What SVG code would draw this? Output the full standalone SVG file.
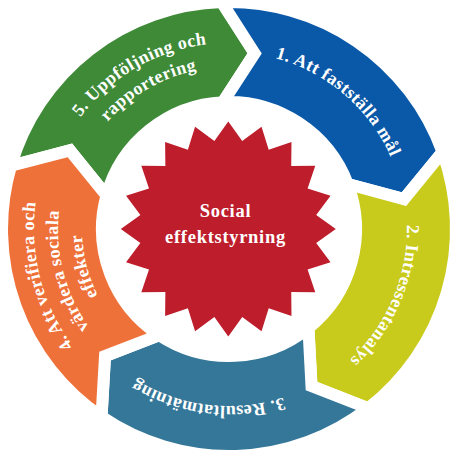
<svg xmlns="http://www.w3.org/2000/svg" width="466" height="462" viewBox="0 0 466 462">
<style>
.seg{stroke:#ffffff;stroke-width:12;stroke-linejoin:miter}
.lbl{font-family:"Liberation Serif","Times New Roman",serif;font-weight:bold;font-size:18px;letter-spacing:0.4px;fill:#ffffff}
.ctr{font-family:"Liberation Serif","Times New Roman",serif;font-weight:bold;font-size:18.5px;letter-spacing:0.7px;fill:#ffffff;text-anchor:middle}
</style>
<defs>
<path id="p5a" d="M43,229 A186,186 0 0 1 322,67.92"/>
<path id="p5b" d="M67,229 A162,162 0 0 1 310,88.7"/>
<path id="p1" d="M170.21,62.05 A177,177 0 0 1 402.98,261.56"/>
<path id="p2" d="M371.16,121.88 A178,178 0 0 1 250.69,405.67"/>
<path id="p3" d="M370.36,335.52 A177,177 0 0 1 66.07,298.16"/>
<path id="p4a" d="M176.89,416.91 A195,195 0 0 1 92.32,89.92"/>
<path id="p4b" d="M183.3,393.78 A171,171 0 0 1 109.14,107.03"/>
<path id="p4c" d="M189.72,370.65 A147,147 0 0 1 125.97,124.15"/>
</defs>
<rect width="466" height="462" fill="#ffffff"/>
<g id="step5">
<path class="seg" fill="#3E8A36" d="M10.98,165.82 A227,227 0 0 1 221.71,2.12 L254.62,53.36 L222.97,102.14 A127,127 0 0 0 106.49,195.53 L69.9,150.36 Z"/>
<text class="lbl"><textPath href="#p5a" startOffset="50%" text-anchor="middle">5. Uppföljning och</textPath></text>
<text class="lbl"><textPath href="#p5b" startOffset="50%" text-anchor="middle">rapportering</textPath></text>
</g>
<g id="step1">
<path class="seg" fill="#0A58A8" d="M221.71,2.12 A227,227 0 0 1 442.53,151.95 L403.96,199.09 L347.78,184.07 A127,127 0 0 0 222.97,102.14 L254.62,53.36 Z"/>
<text class="lbl"><textPath href="#p1" startOffset="50%" text-anchor="middle">1. Att fastställa mål</textPath></text>
</g>
<g id="step2">
<path class="seg" fill="#C9CB1C" d="M442.53,151.95 A227,227 0 0 1 368.26,408.27 L311.51,386.16 L308.44,328.08 A127,127 0 0 0 347.78,184.07 L403.96,199.09 Z"/>
<text class="lbl"><textPath href="#p2" startOffset="50%" text-anchor="middle">2. Intressentanalys</textPath></text>
</g>
<g id="step3">
<path class="seg" fill="#357799" d="M368.26,408.27 A227,227 0 0 1 101.53,416.83 L105.03,356.03 L159.3,335.17 A127,127 0 0 0 308.44,328.08 L311.51,386.16 Z"/>
<text class="lbl"><textPath href="#p3" startOffset="50%" text-anchor="middle">3. Resultatmätning</textPath></text>
</g>
<g id="step4">
<path class="seg" fill="#EF713A" d="M101.53,416.83 A227,227 0 0 1 10.98,165.82 L69.9,150.36 L106.49,195.53 A127,127 0 0 0 159.3,335.17 L105.03,356.03 Z"/>
<text class="lbl"><textPath href="#p4a" startOffset="50%" text-anchor="middle">4. Att verifiera och</textPath></text>
<text class="lbl"><textPath href="#p4b" startOffset="50%" text-anchor="middle">värdera sociala</textPath></text>
<text class="lbl"><textPath href="#p4c" startOffset="50%" text-anchor="middle">effekter</textPath></text>
</g>
<g id="center">
<polygon fill="#BE1D2C" points="228.3,121.5 242.22,141.1 261.52,126.76 268.71,149.7 291.49,142.03 291.23,166.07 315.27,165.81 307.6,188.59 330.54,195.78 316.2,215.08 335.8,229 316.2,242.92 330.54,262.22 307.6,269.41 315.27,292.19 291.23,291.93 291.49,315.97 268.71,308.3 261.52,331.24 242.22,316.9 228.3,336.5 214.38,316.9 195.08,331.24 187.89,308.3 165.11,315.97 165.37,291.93 141.33,292.19 149,269.41 126.06,262.22 140.4,242.92 120.8,229 140.4,215.08 126.06,195.78 149,188.59 141.33,165.81 165.37,166.07 165.11,142.03 187.89,149.7 195.08,126.76 214.38,141.1"/>
<text class="ctr" x="225.5" y="217">Social</text>
<text class="ctr" x="225.5" y="243">effektstyrning</text>
</g>
<g id="connectors"></g>
</svg>
